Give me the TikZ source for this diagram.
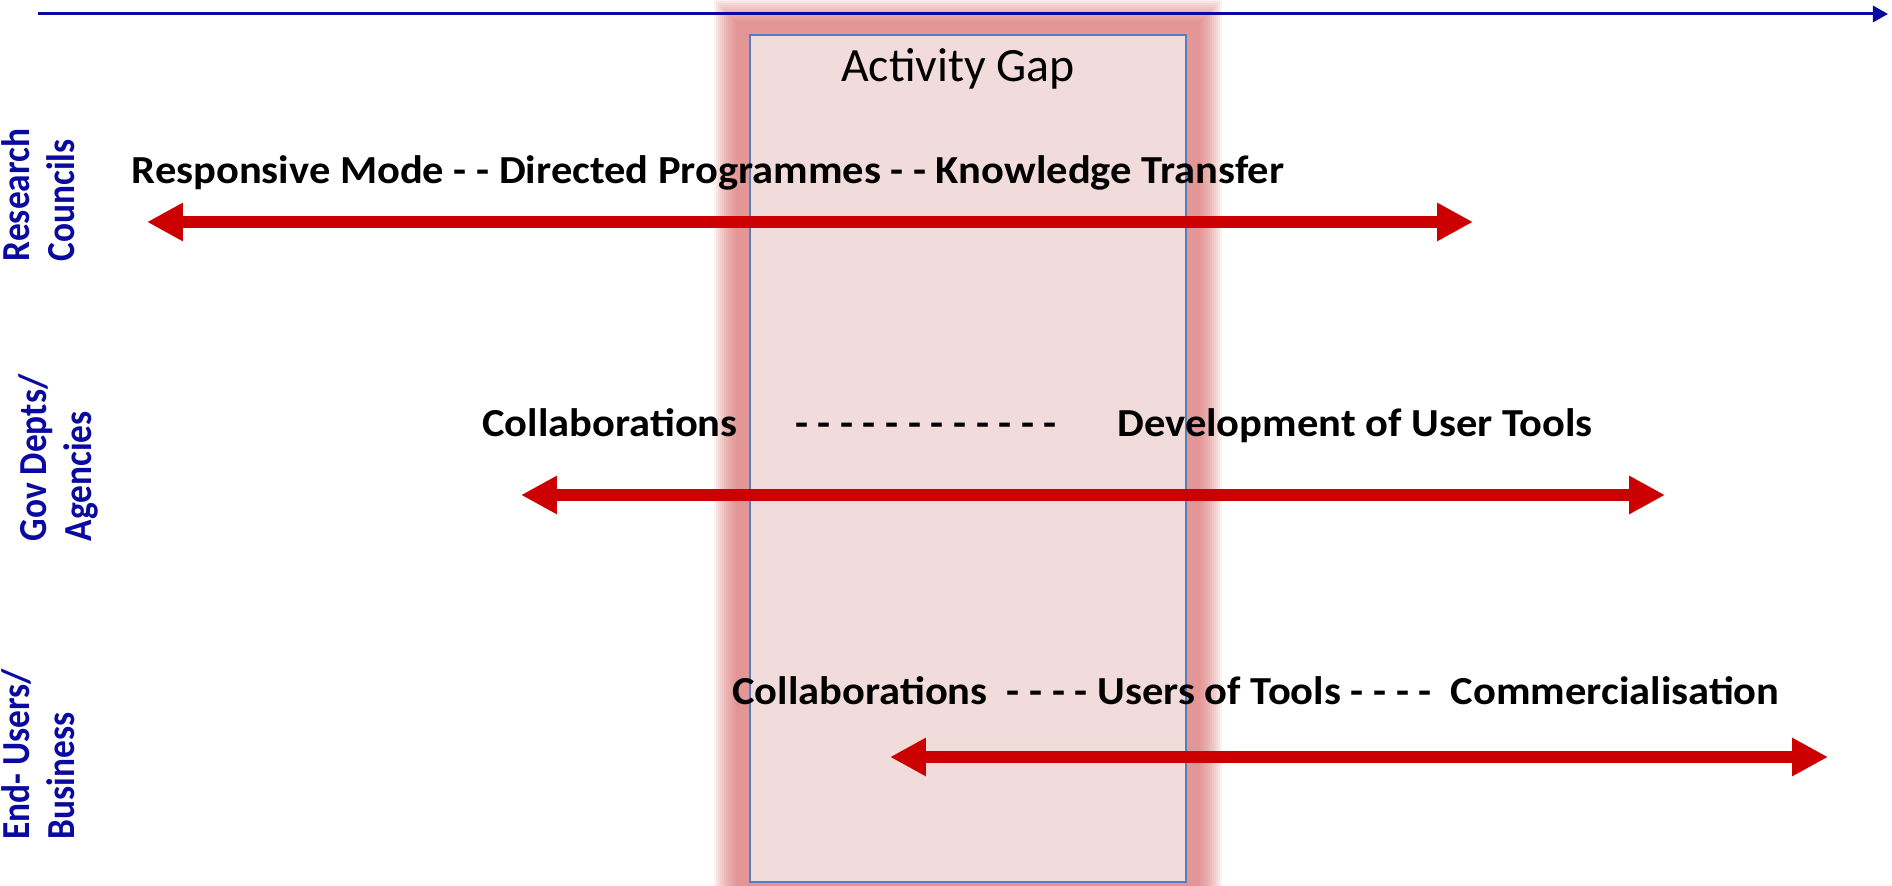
\documentclass[tikz,border=0pt]{standalone}
\usepackage{fontspec}
\setmainfont{Carlito}
\newfontfamily\widebold[FakeStretch=1.07]{Carlito}
\newfontfamily\narrowbold[FakeStretch=0.89]{Carlito}
\usetikzlibrary{arrows.meta}
\usetikzlibrary{positioning}
\definecolor{axisblue}{RGB}{10,10,160}
\definecolor{bandred}{RGB}{204,0,0}
\definecolor{gapfill}{RGB}{242,220,219}
\definecolor{gapline}{RGB}{79,129,189}
\definecolor{glowred}{RGB}{214,100,100}
\tikzstyle{span} = [line width=3.4pt, draw=bandred, {Triangle[length=10.2pt,width=10.2pt]}-{Triangle[length=10.2pt,width=10.2pt]}]
\tikzstyle{activity} = [font=\widebold\fontsize{11.3pt}{13pt}\selectfont\bfseries, text=black, inner sep=0pt, anchor=base]
\tikzstyle{sector} = [font=\narrowbold\fontsize{11.3pt}{12.8pt}\selectfont\bfseries, text=axisblue, rotate=90, align=left, inner sep=0pt, anchor=north west]

\begin{document}
\begin{tikzpicture}[x=0.01cm, y=-0.01cm]
\useasboundingbox (0,0) rectangle (1892,886);

% activity gap with glow
\foreach \g in {14,16,...,36}
  \fill[glowred, opacity=0.09] (750-\g,35-\g) rectangle (1186+\g,882+\g);
\draw[fill=gapfill, draw=gapline, line width=0.7pt] (750,35) rectangle (1186,882);
\node (gap) [anchor=base, inner sep=0pt, font=\fontsize{13.6pt}{16pt}\selectfont] at (958,82) {Activity Gap};

% time axis
\coordinate (axisL) at (38,14);
\coordinate (axisR) at (1888,14);
\draw[axisblue, line width=0.85pt, -{Triangle[length=4.3pt,width=4.6pt]}] (axisL) -- (axisR);

% sector labels
\node (rc) [sector] at (1,262) {Research\\Councils};
\node (gov) [sector] at (18,542) {Gov Depts/\\Agencies};
\node (eu) [sector] at (1,840) {End- Users/\\Business};

% research councils
\node (rcText) [activity] at (708,184) {Responsive Mode - - Directed Programmes - - Knowledge Transfer};
\coordinate (rcL) at (147,222);
\coordinate (rcR) at (1473,222);
\draw[span] (rcL) -- (rcR);

% government
\node (govA) [activity] at (610,437) {Collaborations};
\node (govB) [activity] at (926,437) {- - - - - - - - - - - -};
\node (govC) [activity] at (1355,437) {Development of User Tools};
\coordinate (govL) at (521,495);
\coordinate (govR) at (1665,495);
\draw[span] (govL) -- (govR);

% end users
\node (euText) [activity] at (1256,704) {Collaborations\ \ - - - - Users of Tools - - - -\ \ Commercialisation};
\coordinate (euL) at (890,757);
\coordinate (euR) at (1828,757);
\draw[span] (euL) -- (euR);
\end{tikzpicture}
\end{document}
